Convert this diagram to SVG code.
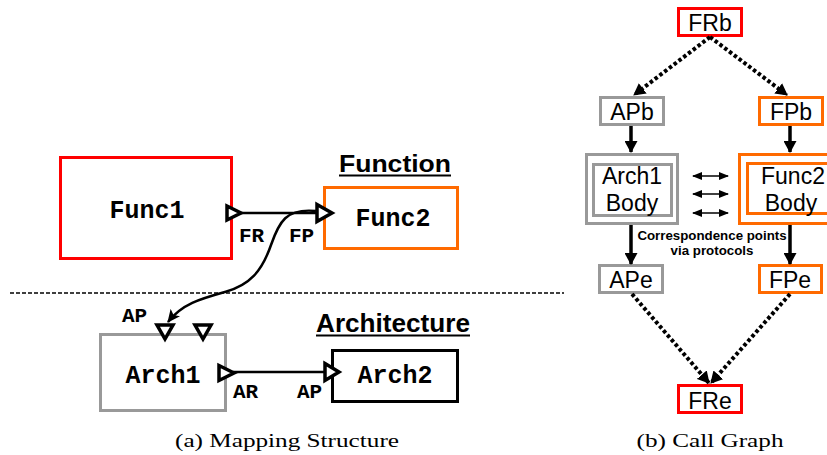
<svg xmlns="http://www.w3.org/2000/svg" width="827" height="455" viewBox="0 0 827 455">
<style>
.box{fill:#fff;stroke-width:3}
.red{stroke:#ff0000}
.org{stroke:#ff6a00}
.gry{stroke:#999999}
.blk{stroke:#000}
.mono{font-family:"Liberation Mono","Courier New",monospace;font-weight:bold;fill:#000}
.name{font-size:25px;text-anchor:middle}
.lbl{font-size:21px}
.sans{font-family:"Liberation Sans",Arial,sans-serif;fill:#000}
.cg{font-size:23px;text-anchor:middle}
.port{fill:#fff;stroke:#000;stroke-width:3.5;stroke-linejoin:miter}
.wire{fill:none;stroke:#000;stroke-width:2.5}
.dot{fill:none;stroke:#000;stroke-width:4;stroke-dasharray:3.5 2.5}
.solid{fill:none;stroke:#000;stroke-width:3.5}
.thin{fill:none;stroke:#000;stroke-width:1.5}
.cap{font-family:"Liberation Serif","Times New Roman",serif;font-size:19px;fill:#000;text-anchor:middle}
</style>
<defs>
<marker id="ah" markerUnits="userSpaceOnUse" markerWidth="14" markerHeight="12" refX="12" refY="6" orient="auto"><path d="M0,0 L13,6 L0,12 L3,6 Z" fill="#000"/></marker>
<marker id="ahb" markerUnits="userSpaceOnUse" markerWidth="13" markerHeight="13" refX="11" refY="6.5" orient="auto"><path d="M0,0 L12,6.5 L0,13 Z" fill="#000"/></marker>
<marker id="ahs" markerUnits="userSpaceOnUse" markerWidth="10" markerHeight="8" refX="9" refY="4" orient="auto-start-reverse"><path d="M0,0 L10,4 L0,8 Z" fill="#000"/></marker>
</defs>

<!-- (a) Mapping Structure -->
<line x1="10" y1="293" x2="564" y2="293" stroke="#000" stroke-width="1.5" stroke-dasharray="4 2"/>

<g id="func1">
<rect class="box red" x="60.5" y="157.5" width="171" height="101"/>
<text class="mono name" x="147" y="218">Func1</text>
</g>
<g id="func2">
<rect class="box org" x="324.5" y="187.5" width="133" height="61"/>
<text class="mono name" x="393" y="226">Func2</text>
</g>
<g id="arch1">
<rect class="box gry" x="100.5" y="334.5" width="125" height="76"/>
<text class="mono name" x="163" y="383">Arch1</text>
</g>
<g id="arch2">
<rect class="box blk" x="332.5" y="350.5" width="125" height="51"/>
<text class="mono name" x="395" y="383">Arch2</text>
</g>

<g id="headings">
<text class="sans" x="339" y="172" font-size="24" font-weight="bold" textLength="112" lengthAdjust="spacingAndGlyphs">Function</text>
<line x1="339" y1="175.5" x2="451" y2="175.5" stroke="#000" stroke-width="2"/>
<text class="sans" x="316" y="332" font-size="25" font-weight="bold" textLength="154" lengthAdjust="spacingAndGlyphs">Architecture</text>
<line x1="316" y1="335.5" x2="470" y2="335.5" stroke="#000" stroke-width="2"/>
</g>

<g id="connectors-a">
<line class="wire" x1="240" y1="213" x2="317" y2="213"/>
<path class="wire" d="M316 211 C286 208 279 222 271 245 C262 271 250 285 225 292 C200 299 182 304 168 322" marker-end="url(#ah)"/>
<line class="wire" x1="233" y1="372" x2="325" y2="372"/>
</g>

<g id="ports">
<polygon class="port" points="227,206 241,213 227,220"/>
<polygon class="port" points="317,204.5 332,213 317,221.5"/>
<polygon class="port" points="157,325 173,325 165,339"/>
<polygon class="port" points="195,325 211,325 203,339"/>
<polygon class="port" points="219,365.5 234,373 219,380.5"/>
<polygon class="port" points="325,363.5 339,372 325,380.5"/>
</g>

<g id="port-labels">
<text class="mono lbl" x="239" y="242">FR</text>
<text class="mono lbl" x="289" y="242">FP</text>
<text class="mono lbl" x="122" y="322">AP</text>
<text class="mono lbl" x="233" y="398">AR</text>
<text class="mono lbl" x="297" y="398">AP</text>
</g>

<text class="cap" x="287" y="447" textLength="224" lengthAdjust="spacingAndGlyphs">(a) Mapping Structure</text>

<!-- (b) Call Graph -->
<g id="frb">
<rect class="box red" x="678.5" y="8.5" width="63" height="27"/>
<text class="sans cg" x="710" y="31">FRb</text>
</g>
<g id="apb">
<rect class="box gry" x="600.5" y="97.5" width="63" height="27"/>
<text class="sans cg" x="632" y="120">APb</text>
</g>
<g id="fpb">
<rect class="box org" x="759.5" y="97.5" width="63" height="27"/>
<text class="sans cg" x="791" y="120">FPb</text>
</g>
<g id="arch1body">
<rect class="box gry" x="586.5" y="154.5" width="91" height="69"/>
<rect class="box gry" x="593.5" y="164.5" width="78" height="51"/>
<text class="sans cg" x="632" y="184">Arch1</text>
<text class="sans cg" x="632" y="211">Body</text>
</g>
<g id="func2body">
<rect class="box org" x="739.5" y="154.5" width="95" height="69"/>
<rect class="box org" x="747.5" y="163.5" width="85" height="50"/>
<text class="sans cg" x="793" y="184">Func2</text>
<text class="sans cg" x="791" y="211">Body</text>
</g>
<g id="ape">
<rect class="box gry" x="599.5" y="265.5" width="63" height="27"/>
<text class="sans cg" x="631" y="288">APe</text>
</g>
<g id="fpe">
<rect class="box org" x="759.5" y="265.5" width="62" height="27"/>
<text class="sans cg" x="790" y="288">FPe</text>
</g>
<g id="fre">
<rect class="box red" x="678.5" y="385.5" width="63" height="27"/>
<text class="sans cg" x="710" y="409">FRe</text>
</g>

<g id="connectors-b">
<line class="dot" x1="710" y1="37" x2="634" y2="95" marker-end="url(#ahb)"/>
<line class="dot" x1="710" y1="37" x2="787" y2="95" marker-end="url(#ahb)"/>
<line class="solid" x1="631" y1="126" x2="631" y2="152" marker-end="url(#ahb)"/>
<line class="solid" x1="790" y1="126" x2="790" y2="152" marker-end="url(#ahb)"/>
<line class="solid" x1="631" y1="225" x2="631" y2="264" marker-end="url(#ahb)"/>
<line class="solid" x1="790" y1="225" x2="790" y2="264" marker-end="url(#ahb)"/>
<line class="dot" x1="632" y1="294" x2="709" y2="383" marker-end="url(#ahb)"/>
<line class="dot" x1="790" y1="294" x2="711" y2="383" marker-end="url(#ahb)"/>
<line class="thin" x1="693" y1="176" x2="728" y2="176" marker-start="url(#ahs)" marker-end="url(#ahs)"/>
<line class="thin" x1="693" y1="194" x2="728" y2="194" marker-start="url(#ahs)" marker-end="url(#ahs)"/>
<line class="thin" x1="693" y1="213" x2="728" y2="213" marker-start="url(#ahs)" marker-end="url(#ahs)"/>
</g>

<g id="note">
<text class="sans" x="712" y="240" font-size="13.3" font-weight="bold" text-anchor="middle">Correspondence points</text>
<text class="sans" x="712" y="255" font-size="13.3" font-weight="bold" text-anchor="middle">via protocols</text>
</g>

<text class="cap" x="710" y="447" textLength="147" lengthAdjust="spacingAndGlyphs">(b) Call Graph</text>
</svg>
